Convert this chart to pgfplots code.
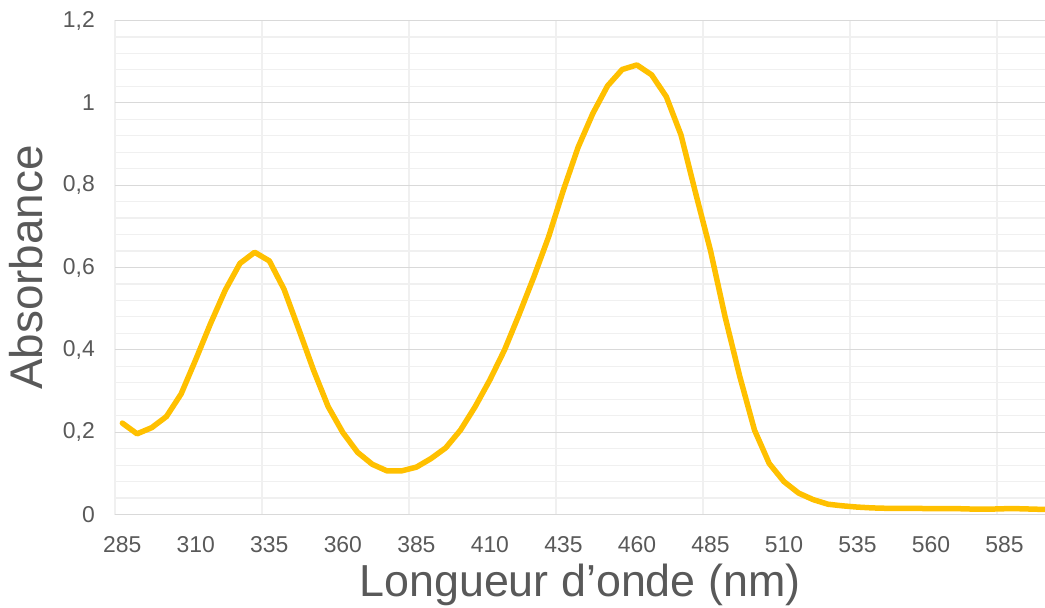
\documentclass[border=0pt]{standalone}
\usepackage{pgfplots}
\pgfplotsset{compat=1.18}
\usepackage{fontspec}
\setmainfont{Liberation Sans}

\definecolor{txtgray}{HTML}{595959}
\definecolor{majgrid}{HTML}{D9D9D9}
\definecolor{mingrid}{HTML}{F0F0F0}
\definecolor{gold}{HTML}{FFC000}

\begin{document}
\begin{tikzpicture}
\path[use as bounding box] (-115bp,-93.5bp) rectangle (930bp,514.5bp);
\begin{axis}[
    scale only axis,
    width=930bp, height=494bp,
    xmin=282.5, xmax=598.8,
    ymin=0, ymax=1.2,
    axis line style={draw=none},
    major tick length=0pt, minor tick length=0pt,
    xtick={285,310,...,585},
    minor xtick={282.5,332.5,...,582.5},
    ytick={0,0.2,...,1.2},
    minor y tick num=4,
    ymajorgrids, yminorgrids, xminorgrids,
    major grid style={majgrid, line width=1bp},
    minor grid style={mingrid, line width=1.2bp},
    /pgf/number format/.cd, use comma, assume math mode=true,
    /pgfplots/.cd,
    ticklabel style={font=\fontsize{23}{23}\selectfont, text=txtgray, inner sep=0pt},
    xticklabel style={anchor=north, yshift=-22bp},
    yticklabel style={anchor=east, xshift=-20bp},
    xlabel={Longueur d’onde (nm)},
    ylabel={Absorbance},
    xlabel style={font=\fontsize{45}{45}\selectfont, text=txtgray, inner sep=0pt,
                  at={(axis description cs:0.5,0)}, anchor=base, yshift=-82bp},
    ylabel style={font=\fontsize{46}{46}\selectfont, text=txtgray, inner sep=0pt,
                  at={(axis description cs:0,0.5)}, anchor=base, yshift=72bp},
    clip=true,
]
\addplot[gold, line width=5.5bp, line join=round, line cap=round] table {
x y
285 0.222
290 0.196
295 0.211
300 0.238
305 0.293
310 0.377
315 0.464
320 0.545
325 0.610
330 0.637
335 0.616
340 0.547
345 0.450
350 0.351
355 0.262
360 0.199
365 0.151
370 0.122
375 0.106
380 0.106
385 0.115
390 0.136
395 0.162
400 0.205
405 0.262
410 0.327
415 0.400
420 0.487
425 0.578
430 0.675
435 0.788
440 0.892
445 0.974
450 1.041
455 1.081
460 1.092
465 1.068
470 1.015
475 0.922
480 0.780
485 0.642
490 0.480
495 0.335
500 0.205
505 0.124
510 0.080
515 0.052
520 0.036
525 0.025
530 0.021
535 0.018
540 0.016
545 0.015
550 0.015
555 0.015
560 0.014
565 0.014
570 0.014
575 0.013
580 0.013
585 0.014
590 0.014
595 0.013
600 0.012
};
\end{axis}
\end{tikzpicture}
\end{document}
